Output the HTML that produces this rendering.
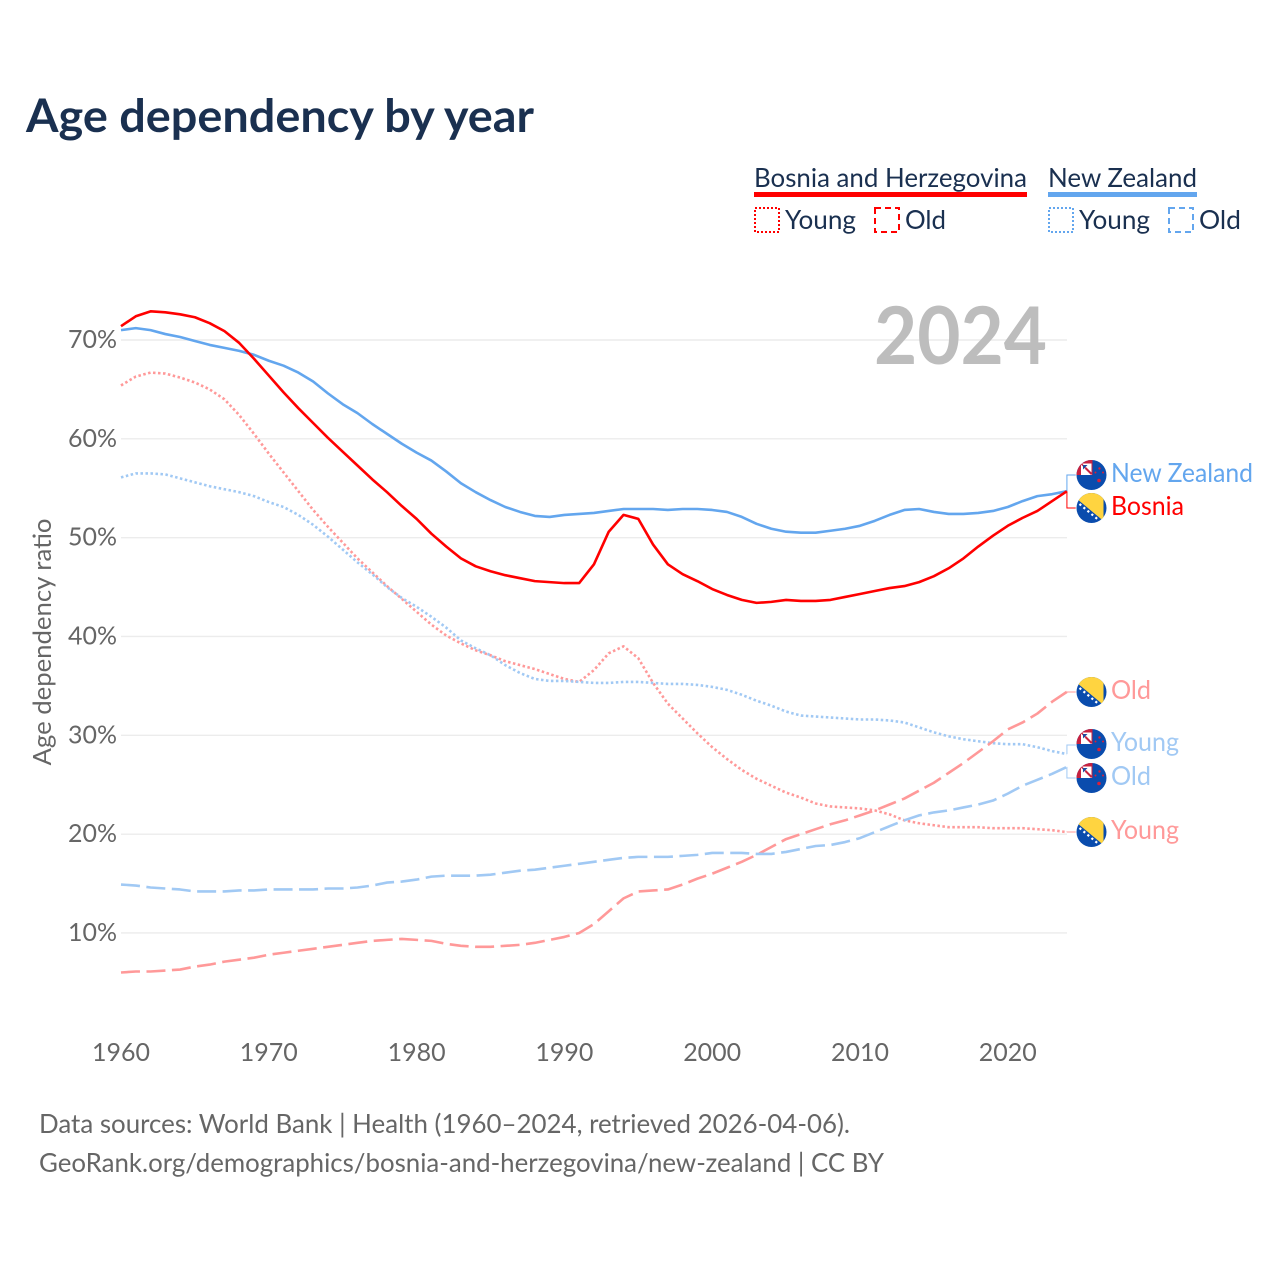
<!DOCTYPE html>
<html lang="en">
<head>
<meta charset="utf-8">
<title>Age dependency by year</title>
<style>
html,body{margin:0;padding:0;background:#fff;width:1280px;height:1280px;overflow:hidden}
svg{display:block}
text{font-family:"Lato","Carlito","Liberation Sans",sans-serif}
</style>
</head>
<body>
<svg id="chart" xmlns="http://www.w3.org/2000/svg" width="1280" height="1280" viewBox="0 0 1280 1280">
<defs>
<clipPath id="flag-clip"><circle cx="0" cy="0" r="15"/></clipPath>
<symbol id="flag-nz" overflow="visible" viewBox="-16 -16 32 32" width="32" height="32">
<circle r="15.8" fill="#fff"/>
<g clip-path="url(#flag-clip)">
<rect x="-16" y="-16" width="32" height="32" fill="#0a4cad"/>
<rect x="-16" y="-16" width="17" height="16" fill="#c8213f"/>
<rect x="-10.5" y="-11.5" width="10.5" height="11.5" fill="#fff"/>
<path d="M-10.5 -11.5 L-6 -7" stroke="#c8213f" stroke-width="1.5"/>
<path d="M-8.5 -10 L-4 -10 L-8.5 -5.5 Z" fill="#1c4a9e"/>
<path d="M-6 -7 L0 -1" stroke="#c8213f" stroke-width="2"/>
<circle cx="8" cy="-6.5" r="1.2" fill="#d8203a"/>
<circle cx="11.5" cy="-2.5" r="1" fill="#d8203a"/>
<circle cx="4" cy="-2.5" r="1" fill="#d8203a"/>
<circle cx="7.5" cy="5.5" r="1.8" fill="#d8203a"/>
</g>
</symbol>
<symbol id="flag-ba" overflow="visible" viewBox="-16 -16 32 32" width="32" height="32">
<circle r="15.8" fill="#fff"/>
<g clip-path="url(#flag-clip)">
<rect x="-16" y="-16" width="32" height="32" fill="#0a4cad"/>
<polygon points="-16,-10.3 -16,-16 12,-16 12,13" fill="#ffd440"/>
<path d="M-12 -4 L7 12" stroke="#fff" stroke-width="2.2" stroke-dasharray="2.2 3"/>
</g>
</symbol>
</defs>

<text x="26" y="132" font-size="46" font-weight="700" fill="#1a3050" textLength="508" lengthAdjust="spacingAndGlyphs">Age dependency by year</text>

<g>
<g>
<text x="754" y="187" font-size="26" fill="#1a3050" textLength="273" lengthAdjust="spacingAndGlyphs">Bosnia and Herzegovina</text>
<rect x="754" y="192" width="273" height="5" fill="#ff0000"/>
<rect x="755" y="208" width="24" height="24" fill="none" stroke="#ff0000" stroke-width="2" stroke-dasharray="2 2"/>
<text x="785" y="229" font-size="26" fill="#1a3050" textLength="71" lengthAdjust="spacingAndGlyphs">Young</text>
<rect x="875" y="208" width="24" height="24" fill="none" stroke="#ff0000" stroke-width="2" stroke-dasharray="6 4"/>
<text x="905" y="229" font-size="26" fill="#1a3050" textLength="41" lengthAdjust="spacingAndGlyphs">Old</text>
</g>
<g>
<text x="1048" y="187" font-size="26" fill="#1a3050" textLength="149" lengthAdjust="spacingAndGlyphs">New Zealand</text>
<rect x="1048" y="192" width="149" height="5" fill="#63a6ee"/>
<rect x="1049" y="208" width="24" height="24" fill="none" stroke="#63a6ee" stroke-width="2" stroke-dasharray="2 2"/>
<text x="1079" y="229" font-size="26" fill="#1a3050" textLength="71" lengthAdjust="spacingAndGlyphs">Young</text>
<rect x="1169" y="208" width="24" height="24" fill="none" stroke="#63a6ee" stroke-width="2" stroke-dasharray="6 4"/>
<text x="1199" y="229" font-size="26" fill="#1a3050" textLength="42" lengthAdjust="spacingAndGlyphs">Old</text>
</g>
</g>

<g id="grid"></g>
<g id="yticks"></g>
<g id="xticks"></g>
<text transform="translate(51,642) rotate(-90)" text-anchor="middle" font-size="25" fill="#666" textLength="247" lengthAdjust="spacingAndGlyphs">Age dependency ratio</text>

<text x="874" y="364" font-size="80" font-weight="700" fill="#bdbdbd" textLength="173" lengthAdjust="spacingAndGlyphs">2024</text>

<g id="series"></g>
<g id="connectors"></g>

<use href="#flag-nz" x="1075.5" y="459" width="32" height="32"/>
<use href="#flag-ba" x="1075.5" y="492" width="32" height="32"/>
<use href="#flag-ba" x="1075.5" y="676" width="32" height="32"/>
<use href="#flag-nz" x="1075.5" y="728" width="32" height="32"/>
<use href="#flag-nz" x="1075.5" y="762" width="32" height="32"/>
<use href="#flag-ba" x="1075.5" y="816" width="32" height="32"/>

<text x="1111" y="482" font-size="26" fill="#63a6ee" textLength="142" lengthAdjust="spacingAndGlyphs">New Zealand</text>
<text x="1111" y="515" font-size="26" fill="#ff0000" textLength="73" lengthAdjust="spacingAndGlyphs">Bosnia</text>
<text x="1111" y="699" font-size="26" fill="#ff9999" textLength="40" lengthAdjust="spacingAndGlyphs">Old</text>
<text x="1111" y="751" font-size="26" fill="#a1c9f4" textLength="68" lengthAdjust="spacingAndGlyphs">Young</text>
<text x="1111" y="785" font-size="26" fill="#a1c9f4" textLength="40" lengthAdjust="spacingAndGlyphs">Old</text>
<text x="1111" y="839" font-size="26" fill="#ff9999" textLength="68" lengthAdjust="spacingAndGlyphs">Young</text>

<text x="39" y="1133" font-size="26" fill="#666" textLength="811" lengthAdjust="spacingAndGlyphs">Data sources: World Bank | Health (1960–2024, retrieved 2026-04-06).</text>
<text x="39" y="1172" font-size="26" fill="#666" textLength="845" lengthAdjust="spacingAndGlyphs">GeoRank.org/demographics/bosnia-and-herzegovina/new-zealand | CC BY</text>
</svg>
<script>
const startYear = 1960;
const yTicks = [10, 20, 30, 40, 50, 60, 70];
const xTicks = [1960, 1970, 1980, 1990, 2000, 2010, 2020];
const bosniaTotal = [71.4,72.4,72.9,72.8,72.6,72.3,71.7,70.9,69.7,68.1,66.4,64.7,63.1,61.6,60.1,58.7,57.3,55.9,54.6,53.2,51.9,50.4,49.1,47.9,47.1,46.6,46.2,45.9,45.6,45.5,45.4,45.4,47.3,50.6,52.3,51.9,49.3,47.3,46.3,45.6,44.8,44.2,43.7,43.4,43.5,43.7,43.6,43.6,43.7,44.0,44.3,44.6,44.9,45.1,45.5,46.1,46.9,47.9,49.1,50.2,51.2,52.0,52.7,53.7,54.7];
const nzTotal = [71.0,71.2,71.0,70.6,70.3,69.9,69.5,69.2,68.9,68.5,67.9,67.4,66.7,65.8,64.6,63.5,62.6,61.5,60.5,59.5,58.6,57.8,56.7,55.5,54.6,53.8,53.1,52.6,52.2,52.1,52.3,52.4,52.5,52.7,52.9,52.9,52.9,52.8,52.9,52.9,52.8,52.6,52.1,51.4,50.9,50.6,50.5,50.5,50.7,50.9,51.2,51.7,52.3,52.8,52.9,52.6,52.4,52.4,52.5,52.7,53.1,53.7,54.2,54.4,54.7];
const bosniaYoung = [65.4,66.3,66.7,66.6,66.2,65.7,65.0,64.0,62.4,60.5,58.5,56.6,54.7,52.8,51.1,49.5,47.9,46.5,45.1,43.8,42.5,41.2,40.1,39.3,38.6,38.1,37.5,37.1,36.7,36.2,35.7,35.4,36.6,38.3,39.0,37.8,35.3,33.2,31.7,30.2,28.8,27.6,26.5,25.6,24.9,24.2,23.7,23.1,22.8,22.7,22.6,22.4,22.0,21.4,21.1,20.9,20.7,20.7,20.7,20.6,20.6,20.6,20.5,20.4,20.2];
const nzYoung = [56.1,56.5,56.5,56.4,56.0,55.6,55.2,54.9,54.6,54.2,53.6,53.1,52.3,51.3,50.1,48.8,47.5,46.3,45.0,43.9,43.0,42.0,40.9,39.6,38.8,38.1,37.1,36.3,35.7,35.5,35.5,35.4,35.3,35.3,35.4,35.4,35.3,35.2,35.2,35.1,34.9,34.6,34.1,33.5,33.0,32.4,32.0,31.9,31.8,31.7,31.6,31.6,31.5,31.3,30.8,30.3,29.9,29.6,29.4,29.2,29.1,29.1,28.8,28.4,28.1];
const bosniaOld = [6.0,6.1,6.1,6.2,6.3,6.6,6.8,7.1,7.3,7.5,7.8,8.0,8.2,8.4,8.6,8.8,9.0,9.2,9.3,9.4,9.3,9.2,8.9,8.7,8.6,8.6,8.7,8.8,9.0,9.3,9.6,10.0,10.9,12.2,13.5,14.2,14.3,14.4,14.9,15.5,16.0,16.6,17.2,17.9,18.7,19.5,20.0,20.5,21.0,21.4,21.9,22.4,23.0,23.6,24.4,25.2,26.2,27.2,28.3,29.4,30.6,31.3,32.2,33.4,34.4];
const nzOld = [14.9,14.8,14.6,14.5,14.4,14.2,14.2,14.2,14.3,14.3,14.4,14.4,14.4,14.4,14.5,14.5,14.6,14.8,15.1,15.2,15.4,15.7,15.8,15.8,15.8,15.9,16.1,16.3,16.4,16.6,16.8,17.0,17.2,17.4,17.6,17.7,17.7,17.7,17.8,17.9,18.1,18.1,18.1,18.0,18.0,18.2,18.5,18.8,18.9,19.2,19.6,20.2,20.8,21.4,21.9,22.2,22.4,22.7,23.0,23.4,24.1,24.9,25.5,26.1,26.8];

const NS = 'http://www.w3.org/2000/svg';
function xScale(year){ return 121 + (year - 1960) * 14.78; }
function yScale(v){ return 1031.8 - 9.883 * v; }
function linePath(values){
  return values.map(function(v, i){
    return (i ? 'L' : 'M') + xScale(startYear + i).toFixed(2) + ' ' + yScale(v).toFixed(2);
  }).join(' ');
}

const gridG = document.getElementById('grid');
const yG = document.getElementById('yticks');
yTicks.forEach(function(t){
  const g = document.createElementNS(NS, 'line');
  
  
  g.setAttribute('x1', 121);
  g.setAttribute('x2', 1067);
  g.setAttribute('y1', yScale(t));
  g.setAttribute('y2', yScale(t));
  g.setAttribute('stroke', '#ececec');
  g.setAttribute('stroke-width', '1.4');
  gridG.appendChild(g);
  const l = document.createElementNS(NS, 'text');
  
  
  l.setAttribute('x', 117);
  l.setAttribute('y', yScale(t) + 8);
  l.setAttribute('text-anchor', 'end');
  l.setAttribute('font-size', '25');
  l.setAttribute('fill', '#666');
  l.setAttribute('textLength', '49');
  l.setAttribute('lengthAdjust', 'spacingAndGlyphs');
  l.textContent = t + '%';
  yG.appendChild(l);
});

const xG = document.getElementById('xticks');
xTicks.forEach(function(t){
  const l = document.createElementNS(NS, 'text');
  
  
  l.setAttribute('x', xScale(t));
  l.setAttribute('y', 1061);
  l.setAttribute('text-anchor', 'middle');
  l.setAttribute('font-size', '25');
  l.setAttribute('fill', '#666');
  l.setAttribute('textLength', '58');
  l.setAttribute('lengthAdjust', 'spacingAndGlyphs');
  l.textContent = t;
  xG.appendChild(l);
});

const seriesG = document.getElementById('series');
function addLine(name, values, color, dash){
  const p = document.createElementNS(NS, 'path');
  
  
  p.setAttribute('d', linePath(values));
  p.setAttribute('fill', 'none');
  p.setAttribute('stroke', color);
  p.setAttribute('stroke-width', '2.6');
  p.setAttribute('stroke-linejoin', 'round');
  if (dash) p.setAttribute('stroke-dasharray', dash);
  seriesG.appendChild(p);
}
addLine('line-bosnia-young', bosniaYoung, '#ff9999', '2.5 2.5');
addLine('line-new-zealand-young', nzYoung, '#a1c9f4', '2.5 2.5');
addLine('line-bosnia-old', bosniaOld, '#ff9999', '19 6.5');
addLine('line-new-zealand-old', nzOld, '#a1c9f4', '19 6.5');
addLine('line-new-zealand-total', nzTotal, '#63a6ee', null);
addLine('line-bosnia-total', bosniaTotal, '#ff0000', null);

const connG = document.getElementById('connectors');
function addConnector(name, values, labelY, color){
  const endX = xScale(startYear + values.length - 1);
  const endY = yScale(values[values.length - 1]);
  const c = document.createElementNS(NS, 'polyline');
  
  
  c.setAttribute('points', endX + ',' + endY + ' ' + endX + ',' + labelY + ' ' + (endX + 10) + ',' + labelY);
  c.setAttribute('fill', 'none');
  c.setAttribute('stroke', color);
  c.setAttribute('stroke-width', '1');
  connG.appendChild(c);
}
addConnector('connector-new-zealand-total', nzTotal, 475, '#63a6ee');
addConnector('connector-bosnia-total', bosniaTotal, 508, '#ff0000');
addConnector('connector-bosnia-old', bosniaOld, 692, '#ff9999');
addConnector('connector-new-zealand-young', nzYoung, 745, '#a1c9f4');
addConnector('connector-new-zealand-old', nzOld, 778, '#a1c9f4');
addConnector('connector-bosnia-young', bosniaYoung, 832, '#ff9999');
</script>
</body>
</html>
